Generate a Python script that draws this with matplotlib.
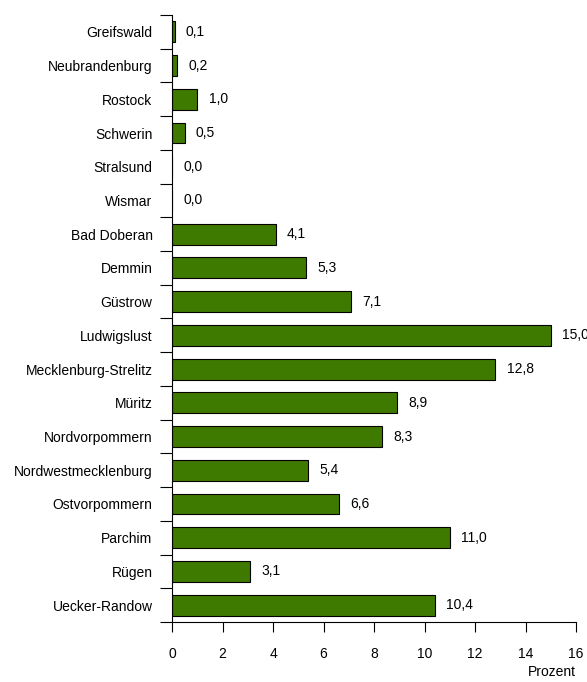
import numpy as np
import matplotlib.pyplot as plt

plt.rcParams['font.family'] = ['Liberation Sans', 'DejaVu Sans']

kreise = ["Greifswald", "Neubrandenburg", "Rostock", "Schwerin", "Stralsund",
          "Wismar", "Bad Doberan", "Demmin", "Güstrow", "Ludwigslust",
          "Mecklenburg-Strelitz", "Müritz", "Nordvorpommern",
          "Nordwestmecklenburg", "Ostvorpommern", "Parchim", "Rügen",
          "Uecker-Randow"]
prozent = [0.1, 0.2, 1.0, 0.5, 0.0, 0.0, 4.1, 5.3, 7.1, 15.0, 12.8, 8.9,
           8.3, 5.4, 6.6, 11.0, 3.1, 10.4]

fig = plt.figure(figsize=(5.87, 6.82), dpi=100)
ax = fig.add_axes([172/587, 60/682, 404/587, 607/682])

y = np.arange(len(kreise))
ax.barh(y, prozent, height=0.62, color='#3f7a00', edgecolor='black', linewidth=0.8)

# Werte neben den Balken
for yi, v in zip(y, prozent):
    ax.text(v + 0.45, yi, f"{v:.1f}".replace('.', ','), va='center', ha='left',
            fontsize=10, clip_on=False)

ax.set_xlim(0, 16)
ax.set_ylim(len(kreise) - 0.5, -0.5)
ax.set_xticks(range(0, 17, 2))
ax.tick_params(axis='x', direction='out', length=7.2, width=0.8, pad=11, labelsize=10)

ax.set_yticks(y)
ax.set_yticklabels(kreise, fontsize=10)
ax.tick_params(axis='y', which='major', length=0, pad=14)
ax.set_yticks(np.arange(-0.5, len(kreise)), minor=True)
ax.tick_params(axis='y', which='minor', direction='out', length=8.6, width=0.8)

for s in ['top', 'right']:
    ax.spines[s].set_visible(False)
ax.spines['left'].set_linewidth(0.8)
ax.spines['bottom'].set_linewidth(0.8)

fig.text(576/587, 1 - 672/682, "Prozent", ha='right', va='center', fontsize=10)

fig.savefig("out.png", dpi=100)
